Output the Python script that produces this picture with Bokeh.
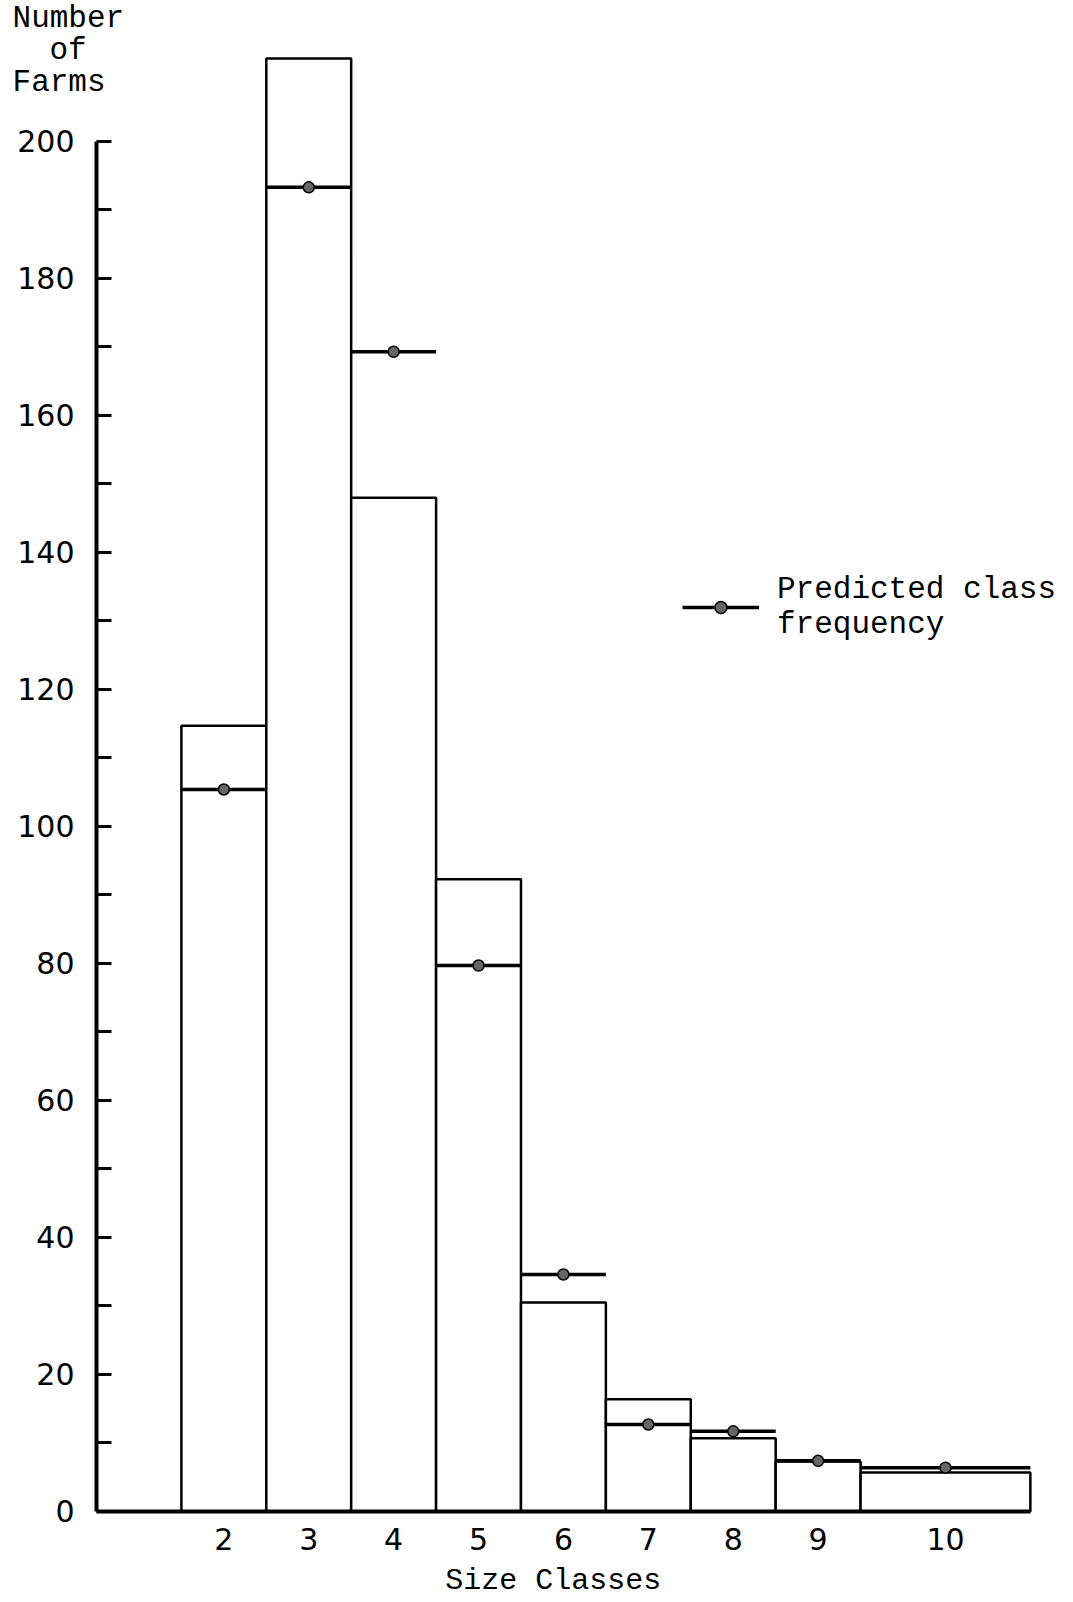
from bokeh.plotting import figure
from bokeh.models import FixedTicker, Label, Legend, LegendItem, ColumnDataSource, Range1d
from bokeh.embed import file_html
from bokeh.resources import INLINE

# ---- data ----
size_classes = ["2", "3", "4", "5", "6", "7", "8", "9", "10"]
class_edges = [1.5, 2.5, 3.5, 4.5, 5.5, 6.5, 7.5, 8.5, 9.5, 11.5]
observed_farms = [114.7, 212.1, 148.0, 92.3, 30.5, 16.4, 10.7, 7.3, 5.7]
predicted_farms = [105.4, 193.3, 169.3, 79.7, 34.6, 12.7, 11.7, 7.4, 6.4]
y_ticks = [0, 20, 40, 60, 80, 100, 120, 140, 160, 180, 200]
y_minor_ticks = [10, 30, 50, 70, 90, 110, 130, 150, 170, 190]

lefts = class_edges[:-1]
rights = class_edges[1:]
centers = [(a + b) / 2 for a, b in zip(lefts, rights)]

src = ColumnDataSource(dict(left=lefts, right=rights, center=centers,
                            observed=observed_farms, predicted=predicted_farms))

MONO = "Liberation Mono"
NUM = "DejaVu Sans"

# frame covers the whole figure; axes are drawn at fixed locations inside it
p = figure(width=1073, height=1602,
           x_range=Range1d(-0.6307, 12.008), y_range=Range1d(-13.285, 220.58),
           output_backend="svg", toolbar_location=None, min_border=0)
p.grid.visible = False
p.outline_line_color = None
p.background_fill_color = "white"

r_bars = p.quad(left="left", right="right", top="observed", bottom=0, source=src,
                fill_color="white", line_color="black", line_width=2.5)
r_pred = p.segment(x0="left", y0="predicted", x1="right", y1="predicted", source=src,
                   line_color="black", line_width=3.5)
r_dot = p.scatter(x="center", y="predicted", source=src, marker="circle", size=11,
                  fill_color="#666666", line_color="black", line_width=1.5)

# x axis
xa = p.xaxis[0]
xa.fixed_location = 0
xa.bounds = (class_edges[0] - 1.0, class_edges[-1])
xa.ticker = FixedTicker(ticks=centers)
xa.major_label_overrides = {c: s for c, s in zip(centers, size_classes)}
xa.major_tick_in = 0
xa.major_tick_out = 0
xa.axis_line_width = 4
xa.major_label_standoff = 17
xa.major_label_text_font = NUM
xa.major_label_text_font_size = "30px"
xa.major_label_text_color = "black"

# y axis
ya = p.yaxis[0]
ya.fixed_location = class_edges[0] - 1.0
ya.ticker = FixedTicker(ticks=y_ticks, minor_ticks=y_minor_ticks)
ya.bounds = (0, 200)
ya.major_tick_in = 15
ya.major_tick_out = 0
ya.minor_tick_in = 15
ya.minor_tick_out = 0
ya.major_tick_line_width = 3
ya.minor_tick_line_width = 3
ya.axis_line_width = 4
ya.major_label_standoff = 22
ya.major_label_text_font = NUM
ya.major_label_text_font_size = "30px"
ya.major_label_text_color = "black"

# y title (three lines)
for txt, xx, yy in [("Number", -0.489, 217.9), ("of", -0.054, 213.3), ("Farms", -0.489, 208.6)]:
    p.add_layout(Label(x=xx, y=yy, text=txt, text_font=MONO, text_font_size="31px",
                       text_baseline="middle", text_align="left", text_color="black"))

# x title
p.add_layout(Label(x=5.88, y=-10.2, text="Size Classes", text_font=MONO,
                   text_font_size="30px", text_baseline="middle", text_align="center",
                   text_color="black"))

legend = Legend(items=[LegendItem(label="Predicted class\nfrequency", renderers=[r_pred, r_dot])],
                location=(682, 960), padding=0, margin=0, spacing=0,
                label_standoff=18, glyph_width=77, glyph_height=30,
                label_text_font=MONO, label_text_font_size="31px",
                label_text_color="black", label_text_line_height=0.9,
                border_line_color=None, background_fill_alpha=0)
p.add_layout(legend)

open("out.html", "w").write(file_html(p, INLINE))
